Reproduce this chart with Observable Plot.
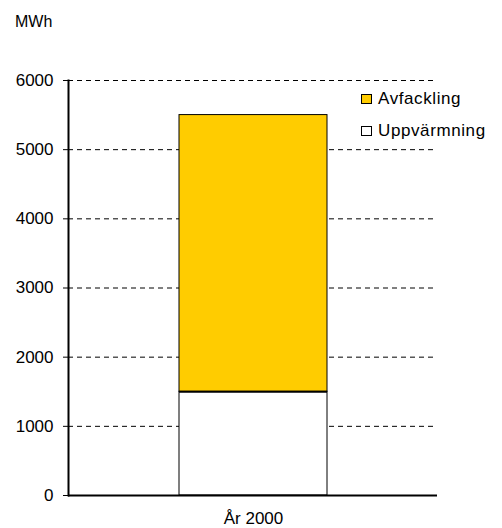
<!DOCTYPE html>
<html>
<head>
<meta charset="utf-8">
<script src="https://cdn.jsdelivr.net/npm/d3@7"></script>
<script src="https://cdn.jsdelivr.net/npm/@observablehq/plot@0.6"></script>
<style>
  html, body { margin: 0; padding: 0; background: #fff; }
  #wrap { position: relative; width: 502px; height: 528px; font-family: "Liberation Sans", Arial, sans-serif; }
  #unit { position: absolute; left: 15px; top: 13px; font-size: 16px; line-height: 18px; color: #000; }
  #legend { position: absolute; left: 361px; top: 83px; font-size: 17px; letter-spacing: 0.6px; color: #000; }
  .row { display: flex; align-items: center; height: 32px; }
  .sw { width: 9px; height: 8px; border: 1px solid #000; margin-right: 6px; box-sizing: content-box; }
</style>
</head>
<body>
<div id="wrap">
  <div id="unit">MWh</div>
  <div id="legend"></div>
</div>
<script>
const categories = ["År 2000"];
const seriesNames = ["Uppvärmning", "Avfackling"];
const uppvarmning = [1500];
const avfackling = [4000];
const yTicks = [0, 1000, 2000, 3000, 4000, 5000, 6000];
const legendOrder = ["Avfackling", "Uppvärmning"];

const seriesColors = ["#ffffff", "#ffcc00"];

const rows = [];
categories.forEach((c, i) => {
  rows.push({cat: c, series: seriesNames[0], value: uppvarmning[i]});
  rows.push({cat: c, series: seriesNames[1], value: avfackling[i]});
});
const boundary = categories.map((c, i) => ({cat: c, value: uppvarmning[i]}));

const chart = Plot.plot({
  width: 502,
  height: 528,
  marginLeft: 68,
  marginRight: 65,
  marginTop: 80,
  marginBottom: 33,
  style: {fontFamily: "Liberation Sans, Arial, sans-serif", fontSize: "17px", color: "#000", background: "transparent"},
  x: {domain: categories, paddingInner: 0, paddingOuter: 0.745, label: null},
  y: {domain: [0, 6000], label: null},
  color: {domain: seriesNames, range: seriesColors},
  marks: [
    Plot.ruleY(yTicks.filter(d => d > 0), {stroke: "#000", strokeWidth: 1, strokeDasharray: "5,4"}),
    Plot.barY(rows, {x: "cat", y: "value", fill: "series", stroke: "#000", strokeWidth: 1, inset: 0, order: seriesNames}),
    Plot.tickY(boundary, {x: "cat", y: "value", stroke: "#000", strokeWidth: 2}),
    Plot.axisY({ticks: yTicks, tickSize: 5, tickPadding: 10, tickFormat: d => String(d), fontSize: 17, label: null}),
    Plot.axisX({tickSize: 0, tickPadding: 16, fontSize: 17, label: null}),
    Plot.frame({anchor: "left", stroke: "#000", strokeWidth: 2}),
    Plot.ruleY([0], {stroke: "#000", strokeWidth: 2})
  ]
});
const wrap = document.getElementById("wrap");
wrap.insertBefore(chart, wrap.firstChild);

const legend = document.getElementById("legend");
legendOrder.forEach(name => {
  const row = document.createElement("div");
  row.className = "row";
  const sw = document.createElement("div");
  sw.className = "sw";
  sw.style.background = seriesColors[seriesNames.indexOf(name)];
  const t = document.createElement("span");
  t.textContent = name;
  row.appendChild(sw);
  row.appendChild(t);
  legend.appendChild(row);
});
</script>
</body>
</html>
